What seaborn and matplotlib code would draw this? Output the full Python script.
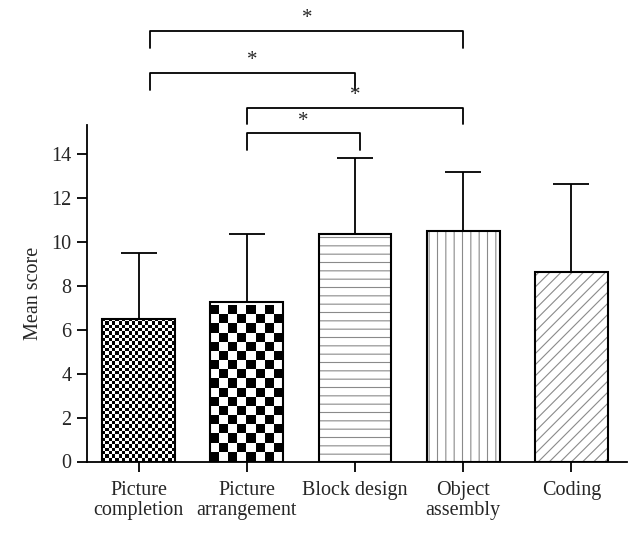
import numpy as np
import pandas as pd
import matplotlib
matplotlib.use("Agg")
import matplotlib.pyplot as plt
import seaborn as sns

# Datos
tareas = ['Picture\ncompletion', 'Picture\narrangement', 'Block design', 'Object\nassembly', 'Coding']
media = [6.48, 7.25, 10.34, 10.49, 8.60]
sd = [2.98, 3.09, 3.44, 2.68, 4.01]

# comparaciones significativas: (x izquierda, x derecha, altura, patas)
comp_x1 = [0.11, 0.11, 1.0, 1.0]
comp_x2 = [3.0, 2.0, 3.0, 2.05]
comp_y = [19.57, 17.67, 16.08, 14.92]
comp_pata = [0.75, 0.78, 0.75, 0.75]

tramas = [None, None, '--', '||', '///']
cuadros = [22, 8]  # cuadros de ajedrez a lo ancho de las barras 1 y 2

df = pd.DataFrame({'Tarea': tareas, 'Media': media})

sns.set_style('ticks')
plt.rcParams['font.family'] = ['Liberation Serif', 'DejaVu Serif']
plt.rcParams['hatch.linewidth'] = 0.8

fig = plt.figure(figsize=(6.42, 5.37), dpi=100)
ax = fig.add_axes([87/642, 1 - 461.5/537, 540/642, 336.5/537])

# barras de relleno
sns.barplot(data=df, x='Tarea', y='Media', color='white', width=0.674,
            linewidth=0, saturation=1, ax=ax, zorder=2)
ax.set_xlim(-0.476, 4.513)
ax.set_ylim(0, 15.3)

barras = list(ax.patches)
for p, h in zip(barras, tramas):
    if h:
        p.set_hatch(h)
        p.set_edgecolor('#8a8a8a')

# error (solo hacia arriba)
ax.errorbar(range(len(tareas)), media, yerr=[np.zeros(len(sd)), sd], fmt='none',
            ecolor='black', elinewidth=1.3, capsize=13, capthick=1.3, zorder=1)

# tableros de ajedrez recortados a las barras
fig.canvas.draw()
for p, n in zip(barras[:2], cuadros):
    x0, y0 = p.get_x(), p.get_y()
    w, h = p.get_width(), p.get_height()
    px = ax.transData.transform([[x0, y0], [x0 + w, y0 + h]])
    lado = (px[1, 0] - px[0, 0]) / n
    m = int(round((px[1, 1] - px[0, 1]) / lado))
    tablero = (np.add.outer(np.arange(m), np.arange(n)) % 2).astype(float)
    y1 = y0 + m * lado / (px[1, 1] - px[0, 1]) * h
    im = ax.imshow(tablero, extent=(x0, x0 + w, y0, y1), cmap='gray', aspect='auto',
                   interpolation='nearest', origin='lower', zorder=2.5)
    im.set_clip_path(p)

# contornos negros
sns.barplot(data=df, x='Tarea', y='Media', color='black', fill=False, width=0.674,
            linewidth=1.5, ax=ax, zorder=3)
ax.set_xlim(-0.476, 4.513)
ax.set_ylim(0, 15.3)

# corchetes de significancia
for a, b, y, d in zip(comp_x1, comp_x2, comp_y, comp_pata):
    ax.plot([a, a, b, b], [y - d, y, y, y - d], color='black', lw=1.3, clip_on=False)
    ax.text((a + b) / 2, y + 0.12, '*', ha='center', va='bottom', fontsize=15)

ax.set_yticks(range(0, 15, 2))
ax.set_xlabel('')
ax.set_ylabel('Mean score', fontsize=14.5, labelpad=6)
ax.tick_params(axis='both', labelsize=14.5, length=7, width=1.3, color='black')
ax.tick_params(axis='x', pad=7)
ax.tick_params(axis='y', pad=4)
for lbl in ax.get_xticklabels():
    lbl.set_linespacing(1.05)
sns.despine(ax=ax)
for s in ['left', 'bottom']:
    ax.spines[s].set_linewidth(1.3)
    ax.spines[s].set_color('black')

fig.savefig('out.png', dpi=100)
